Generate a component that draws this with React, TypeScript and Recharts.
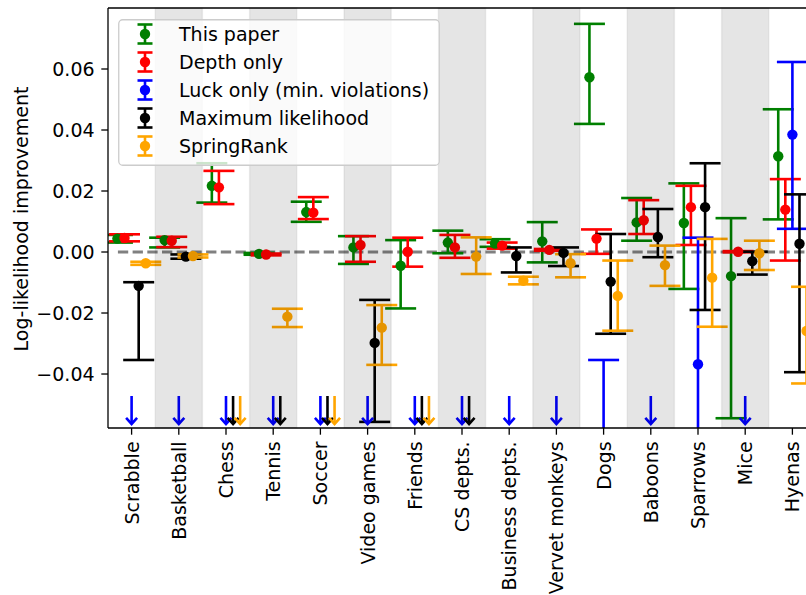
import React from 'react';
import {
  ScatterChart,
  Scatter,
  XAxis,
  YAxis,
  ErrorBar,
  ReferenceArea,
  ReferenceLine,
  Legend,
} from 'recharts';

// ---------------- data ----------------
const categories = [
  'Scrabble', 'Basketball', 'Chess', 'Tennis', 'Soccer', 'Video games', 'Friends',
  'CS depts.', 'Business depts.', 'Vervet monkeys', 'Dogs', 'Baboons', 'Sparrows', 'Mice', 'Hyenas',
];

// null = off-scale below the axis (drawn as an arrow)
const thisPaper = [0.0044, 0.0039, 0.0217, -0.0006, 0.0131, 0.0015, -0.0045, 0.0031, 0.0028, 0.0035, 0.0573, 0.0097, 0.0095, -0.0079, 0.0314];
const thisPaperLow = [0.0031, 0.0015, 0.0162, -0.0009, 0.0099, -0.0039, -0.0185, -0.0004, 0.0017, -0.0034, 0.042, 0.0037, -0.0121, -0.0545, 0.0107];
const thisPaperHigh = [0.0056, 0.0047, 0.0291, -0.0003, 0.0165, 0.0052, 0.0039, 0.007, 0.0042, 0.0098, 0.0748, 0.0177, 0.0225, 0.0111, 0.0468];

const depthOnly = [0.0046, 0.0037, 0.0212, -0.0008, 0.0129, 0.0023, 0.0001, 0.0015, 0.0021, 0.0007, 0.0044, 0.0104, 0.0147, 0.0001, 0.0139];
const depthOnlyLow = [0.0035, 0.0016, 0.0157, -0.0011, 0.0108, -0.0032, -0.0048, -0.0019, 0.0011, 0.0004, -0.0006, 0.0059, 0.0023, -0.0001, -0.0028];
const depthOnlyHigh = [0.0058, 0.005, 0.0266, -0.0005, 0.018, 0.0052, 0.0047, 0.0056, 0.0031, 0.001, 0.0074, 0.017, 0.0217, 0.0003, 0.0239];

const luckOnly = [null, null, null, null, null, null, null, null, null, null, -0.075, null, -0.0368, null, 0.0385];
const luckOnlyLow = [null, null, null, null, null, null, null, null, null, null, -0.11, null, -0.08, null, 0.0076];
const luckOnlyHigh = [null, null, null, null, null, null, null, null, null, null, -0.0354, null, 0.0047, null, 0.0623];

const maxLik = [-0.0111, -0.0015, null, null, null, -0.0298, null, null, -0.0013, -0.0003, -0.0097, 0.0049, 0.0147, -0.003, 0.0027];
const maxLikLow = [-0.0354, -0.0022, null, null, null, -0.0557, null, null, -0.0067, -0.0046, -0.0268, -0.0017, -0.019, -0.0074, -0.0394];
const maxLikHigh = [-0.0099, -0.0008, null, null, null, -0.0157, null, null, 0.0015, 0.0015, 0.0059, 0.0141, 0.0291, 0.0001, 0.0189];

const springRank = [-0.0037, -0.0013, null, -0.0212, null, -0.0248, null, -0.0015, -0.0094, -0.0037, -0.0144, -0.0043, -0.0084, -0.0004, -0.0259];
const springRankLow = [-0.0042, -0.0018, null, -0.0246, null, -0.037, null, -0.0072, -0.0106, -0.0083, -0.0258, -0.0111, -0.0245, -0.0059, -0.0431];
const springRankHigh = [-0.0032, -0.0008, null, -0.0186, null, -0.0174, null, 0.0048, -0.0081, -0.0007, -0.0028, 0.0021, 0.0043, 0.0037, -0.0114];

const yTicks = [-0.04, -0.02, 0, 0.02, 0.04, 0.06];

// ---------------- layout / style ----------------
const CHART_W = 830;
const CHART_H = 595;
const MARGIN = { top: 8, right: 14, bottom: 0, left: 0 };
const Y_AXIS_W = 108;
const X_AXIS_H = 167;
const Y_MIN = -0.0577;
const Y_MAX = 0.08;
const ARROW_TOP = -0.0472;
const FONT = 'DejaVu Sans, sans-serif';
const FS = 19;
const OFFSETS = [-0.3, -0.15, 0, 0.15, 0.3];
const CLIP_ID = 'plot-area-clip';

type SeriesDef = {
  name: string;
  color: string;
  values: (number | null)[];
  lows: (number | null)[];
  highs: (number | null)[];
};

const SERIES: SeriesDef[] = [
  { name: 'This paper', color: '#008000', values: thisPaper, lows: thisPaperLow, highs: thisPaperHigh },
  { name: 'Depth only', color: '#ff0000', values: depthOnly, lows: depthOnlyLow, highs: depthOnlyHigh },
  { name: 'Luck only (min. violations)', color: '#0000ff', values: luckOnly, lows: luckOnlyLow, highs: luckOnlyHigh },
  { name: 'Maximum likelihood', color: '#000000', values: maxLik, lows: maxLikLow, highs: maxLikHigh },
  { name: 'SpringRank', color: '#ffa500', values: springRank, lows: springRankLow, highs: springRankHigh },
];

const pointsFor = (s: SeriesDef, k: number) =>
  categories
    .map((_, i) => {
      const v = s.values[i];
      if (v == null) return null;
      return { x: i + OFFSETS[k], y: v, err: [v - (s.lows[i] as number), (s.highs[i] as number) - v] };
    })
    .filter(Boolean) as { x: number; y: number; err: number[] }[];

const arrowsFor = (s: SeriesDef, k: number) =>
  categories
    .map((_, i) => (s.values[i] == null ? { x: i + OFFSETS[k], y: ARROW_TOP } : null))
    .filter(Boolean) as { x: number; y: number }[];

const fmtY = (v: number) => {
  const s = Math.abs(v).toFixed(2);
  return v < -1e-9 ? '\u2212' + s : s;
};

const CatTick = (props: any) => {
  const { x, y, payload } = props;
  return (
    <text
      x={x}
      y={y}
      transform={`rotate(-90, ${x}, ${y})`}
      textAnchor="end"
      dominantBaseline="central"
      fontSize={FS}
      fontFamily={FONT}
      fill="#000"
    >
      {categories[payload.value]}
    </text>
  );
};

const makeDot = (color: string) => (props: any) => {
  const { cx, cy } = props;
  if (cx == null || cy == null) return <g />;
  return <circle cx={cx} cy={cy} r={5.2} fill={color} />;
};

const makeArrow = (color: string) => (props: any) => {
  const { cx, cy } = props;
  if (cx == null || cy == null) return <g />;
  const tip = cy + 29;
  return (
    <g>
      <line x1={cx} x2={cx} y1={cy} y2={tip - 1} stroke={color} strokeWidth={2.6} />
      <polyline
        points={`${cx - 5.5},${tip - 7} ${cx},${tip - 1} ${cx + 5.5},${tip - 7}`}
        fill="none"
        stroke={color}
        strokeWidth={2.6}
      />
    </g>
  );
};

const LegendBox = () => (
  <svg width={322} height={147} style={{ display: 'block' }}>
    <rect x={0.75} y={0.75} width={320.5} height={145.5} rx={4} fill="#fff" fillOpacity={0.8} stroke="#cccccc" strokeWidth={1.3} />
    {SERIES.map((s, k) => {
      const cy = 15 + k * 28;
      return (
        <g key={s.name}>
          <line x1={27} x2={27} y1={cy - 9.5} y2={cy + 9.5} stroke={s.color} strokeWidth={2.6} />
          <line x1={19.5} x2={34.5} y1={cy - 9.5} y2={cy - 9.5} stroke={s.color} strokeWidth={2.6} />
          <line x1={19.5} x2={34.5} y1={cy + 9.5} y2={cy + 9.5} stroke={s.color} strokeWidth={2.6} />
          <circle cx={27} cy={cy} r={5.2} fill={s.color} />
          <text x={61} y={cy} dominantBaseline="central" fontSize={FS} fontFamily={FONT} fill="#000">
            {s.name}
          </text>
        </g>
      );
    })}
  </svg>
);

const bandIdx = categories.map((_, i) => i).filter((i) => i % 2 === 1);

// clip region = plot area (derived from the chart layout constants)
const PLOT_X = MARGIN.left + Y_AXIS_W;
const PLOT_Y = MARGIN.top;
const PLOT_W = CHART_W - MARGIN.left - MARGIN.right - Y_AXIS_W;
const PLOT_H = CHART_H - MARGIN.top - MARGIN.bottom - X_AXIS_H;

export default function App() {
  return (
    <div style={{ position: 'absolute', left: 0, top: 0, width: 806, height: 595, overflow: 'hidden', background: '#fff' }}>
      <ScatterChart width={CHART_W} height={CHART_H} margin={MARGIN}>
        <defs>
          <clipPath id={CLIP_ID}>
            <rect x={PLOT_X} y={PLOT_Y} width={PLOT_W} height={PLOT_H} />
          </clipPath>
        </defs>
        <XAxis
          type="number"
          dataKey="x"
          domain={[-0.5, 14.5]}
          ticks={categories.map((_, i) => i)}
          interval={0}
          allowDataOverflow
          height={X_AXIS_H}
          tick={<CatTick />}
          tickSize={6.7}
          tickMargin={6.7}
          axisLine={{ stroke: '#000', strokeWidth: 1.3 }}
          tickLine={{ stroke: '#000', strokeWidth: 1.3 }}
        />
        <YAxis
          type="number"
          dataKey="y"
          domain={[Y_MIN, Y_MAX]}
          ticks={yTicks}
          interval={0}
          allowDataOverflow
          width={Y_AXIS_W}
          tickFormatter={fmtY}
          tick={{ fill: '#000', fontSize: FS, fontFamily: FONT }}
          tickSize={6.7}
          tickMargin={6.7}
          axisLine={{ stroke: '#000', strokeWidth: 1.3 }}
          tickLine={{ stroke: '#000', strokeWidth: 1.3 }}
          label={{
            content: () => (
              <text
                x={21}
                y={219}
                transform="rotate(-90, 21, 219)"
                textAnchor="middle"
                dominantBaseline="central"
                fontSize={FS}
                fontFamily={FONT}
                fill="#000"
              >
                Log-likelihood improvement
              </text>
            ),
          }}
        />
        <ReferenceLine
          segment={[{ x: -0.29, y: 0 }, { x: 14.5, y: 0 }]}
          stroke="#808080"
          strokeWidth={2.8}
          strokeDasharray="10.3 4.4"
        />
        {SERIES.map((s, k) => (
          <Scatter
            key={s.name}
            name={s.name}
            data={pointsFor(s, k)}
            dataKey="y"
            fill={s.color}
            shape={makeDot(s.color)}
            isAnimationActive={false}
          >
            <ErrorBar
              dataKey="err"
              direction="y"
              width={15.5}
              strokeWidth={2.6}
              stroke={s.color}
              clipPath={`url(#${CLIP_ID})`}
            />
          </Scatter>
        ))}
        {SERIES.map((s, k) => (
          <Scatter
            key={s.name + '-arrows'}
            name={s.name + ' (off-scale)'}
            data={arrowsFor(s, k)}
            dataKey="y"
            fill={s.color}
            shape={makeArrow(s.color)}
            isAnimationActive={false}
            legendType="none"
          />
        ))}
        {bandIdx.map((i) => (
          <ReferenceArea
            key={'band' + i}
            x1={i - 0.5}
            x2={i + 0.5}
            y1={Y_MIN}
            y2={Y_MAX}
            fill="#000"
            fillOpacity={0.1}
            stroke="#000"
            strokeOpacity={0.06}
            strokeWidth={1.5}
            zIndex={700}
          />
        ))}
        <ReferenceLine y={Y_MAX} stroke="#000" strokeWidth={1.3} />
        <Legend
          layout="horizontal"
          verticalAlign="middle"
          align="center"
          wrapperStyle={{ position: 'absolute', left: 118, top: 19, width: 322, height: 147 }}
          content={() => <LegendBox />}
        />
      </ScatterChart>
    </div>
  );
}
